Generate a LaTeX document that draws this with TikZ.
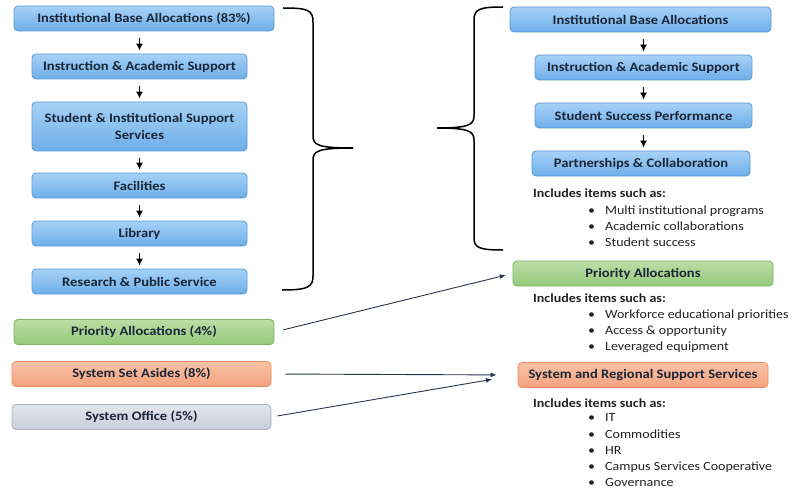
\documentclass[tikz,border=0pt]{standalone}
\usepackage{fontspec}
\setmainfont{Carlito}[FakeStretch=1.12]
\usetikzlibrary{arrows.meta}
\definecolor{boxtext}{HTML}{1B2638}
\definecolor{notetext}{HTML}{222222}
\definecolor{bluedraw}{HTML}{5B9BD5}
\definecolor{bluetop}{HTML}{A6D1F5}
\definecolor{bluebot}{HTML}{6EAEE9}
\definecolor{greendraw}{HTML}{7DB35C}
\definecolor{greentop}{HTML}{BCDEA7}
\definecolor{greenbot}{HTML}{93C97A}
\definecolor{orangedraw}{HTML}{E98B5E}
\definecolor{orangetop}{HTML}{FAC3A6}
\definecolor{orangebot}{HTML}{F4A27E}
\definecolor{graydraw}{HTML}{A9B3C1}
\definecolor{graytop}{HTML}{E1E5EC}
\definecolor{graybot}{HTML}{C8CFDA}
\definecolor{linkcol}{HTML}{2A3350}
\tikzset{%
  >={Latex[width=5pt,length=6pt]},
  % Specifications for style of nodes:
             box/.style = {rectangle, rounded corners=4pt, line width=0.8pt,
                           minimum height=25pt, inner sep=2pt, align=center,
                           text=boxtext, font=\fontsize{13}{16.5}\selectfont\bfseries},
          budget/.style = {box, draw=bluedraw, top color=bluetop, bottom color=bluebot},
        priority/.style = {box, draw=greendraw, top color=greentop, bottom color=greenbot},
           aside/.style = {box, draw=orangedraw, top color=orangetop, bottom color=orangebot},
          office/.style = {box, draw=graydraw, top color=graytop, bottom color=graybot},
            note/.style = {inner sep=0pt, anchor=west, text=notetext,
                           font=\fontsize{12.5}{16.3}\selectfont\bfseries},
           items/.style = {note, align=left, anchor=north west,
                           font=\fontsize{12.5}{16.3}\selectfont},
            flow/.style = {-{Latex[width=7pt,length=7pt]}, line width=1.8pt,
                           shorten <=7pt, shorten >=3pt},
            link/.style = {->, line width=0.9pt, draw=linkcol},
           brace/.style = {line width=1.5pt},
}
\begin{document}
\begin{tikzpicture}[x=1pt, y=-1pt, node distance=48pt]
  \useasboundingbox (0,0) rectangle (803,492);

  \node (alloc)     [budget, minimum width=260pt] at (144,18.5) {Institutional Base Allocations (83\%)};
  \node (instr)     [budget, minimum width=215pt, below of=alloc, xshift=-4.5pt] {Instruction \& Academic Support};
  \node (studsup)   [budget, minimum width=215pt, minimum height=49pt, below of=instr, yshift=-12pt] {Student \& Institutional Support\\ Services};
  \node (facil)     [budget, minimum width=215pt, below of=studsup, yshift=-11pt] {Facilities};
  \node (library)   [budget, minimum width=215pt, below of=facil] {Library};
  \node (research)  [budget, minimum width=215pt, below of=library] {Research \& Public Service};

  \node (prio)      [priority, minimum width=260pt] at (144,332) {Priority Allocations (4\%)};
  \node (setaside)  [aside, minimum width=259pt, below of=prio, xshift=-2.5pt, yshift=6pt] {System Set Asides (8\%)};
  \node (sysoffice) [office, minimum width=259pt, below of=setaside, yshift=5pt] {System Office (5\%)};

  \node (newbase)   [budget, minimum width=261pt] at (640.5,19.5) {Institutional Base Allocations};
  \node (newinstr)  [budget, minimum width=217pt, below of=newbase, xshift=3pt] {Instruction \& Academic Support};
  \node (success)   [budget, minimum width=217pt, below of=newinstr] {Student Success Performance};
  \node (partner)   [budget, minimum width=218pt, below of=success, xshift=-2.5pt] {Partnerships \& Collaboration};

  \node (newprio)   [priority, minimum width=260pt] at (643,273.5) {Priority Allocations};
  \node (regional)  [aside, minimum width=250pt] at (643,375) {System and Regional Support Services};

  \node (inc1)  [note] at (533,193) {Includes items such as:};
  \node (list1) [items] at (588,205.5) {\textbullet\hspace{10pt}Multi institutional programs\\
    \textbullet\hspace{10pt}Academic collaborations\\ \textbullet\hspace{10pt}Student success};
  \node (inc2)  [note] at (533,298) {Includes items such as:};
  \node (list2) [items] at (588,309.5) {\textbullet\hspace{10pt}Workforce educational priorities\\
    \textbullet\hspace{10pt}Access \& opportunity\\ \textbullet\hspace{10pt}Leveraged equipment};
  \node (inc3)  [note] at (533,403) {Includes items such as:};
  \node (list3) [items] at (588,413.5) {\textbullet\hspace{10pt}IT\\ \textbullet\hspace{10pt}Commodities\\
    \textbullet\hspace{10pt}HR\\ \textbullet\hspace{10pt}Campus Services Cooperative\\ \textbullet\hspace{10pt}Governance};

  \draw[flow] (instr |- alloc.south) -- (instr);
  \draw[flow] (instr)    -- (studsup);
  \draw[flow] (studsup)  -- (facil);
  \draw[flow] (facil)    -- (library);
  \draw[flow] (library)  -- (research);

  \draw[flow] (newinstr |- newbase.south) -- (newinstr);
  \draw[flow] (newinstr) -- (success);
  \draw[flow] (success.south) -- (success.south |- partner.north);

  \draw[link, shorten <=9pt, shorten >=7pt]  (prio.east)      -- (newprio.west);
  \draw[link, shorten <=14pt, shorten >=21pt] (setaside.east)  -- (regional.west);
  \draw[link, shorten <=6pt, shorten >=26pt]  (sysoffice.east) -- (regional.west);

  \draw[brace] (283,8) .. controls (308,8) and (313,10) .. (313,22)
      -- (313,136) .. controls (313,145) and (318,148) .. (353,148)
      .. controls (318,148) and (313,151) .. (313,160)
      -- (313,276) .. controls (313,287) and (308,290) .. (282,290);

  \draw[brace] (503,7) .. controls (480,7) and (474,9) .. (474,20)
      -- (474,116) .. controls (474,125) and (468,128) .. (437,128)
      .. controls (468,128) and (474,131) .. (474,140)
      -- (474,238) .. controls (474,248) and (480,250) .. (503,250);

\end{tikzpicture}
\end{document}
